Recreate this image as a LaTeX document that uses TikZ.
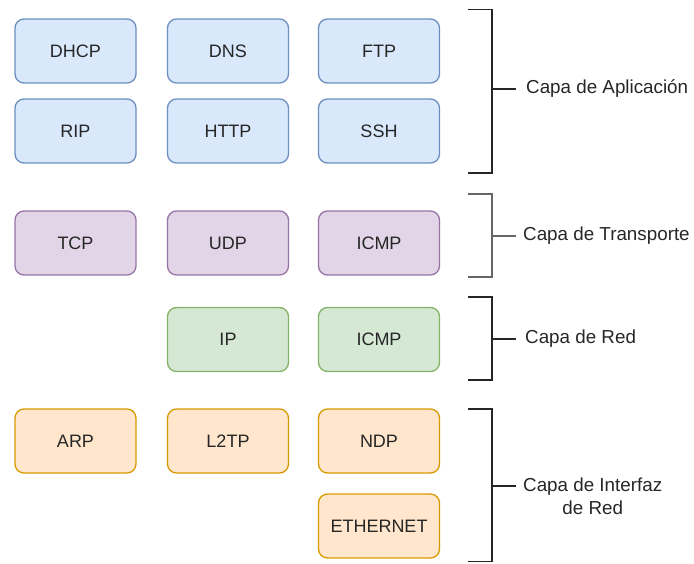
\documentclass[tikz,border=0pt]{standalone}
\usepackage{fontspec}
\setmainfont{Liberation Sans}
\begin{document}
\begin{tikzpicture}[x=1pt,y=-1pt,
  proto/.style={draw, line width=1.3pt, rounded corners=9pt, minimum width=121pt,
    minimum height=64pt, inner sep=0pt, font=\fontsize{18}{21}\selectfont, text=black!85},
  appl/.style={proto, fill={rgb,255:red,218;green,232;blue,252}, draw={rgb,255:red,108;green,142;blue,191}},
  trans/.style={proto, fill={rgb,255:red,225;green,213;blue,231}, draw={rgb,255:red,150;green,115;blue,166}},
  netw/.style={proto, fill={rgb,255:red,213;green,232;blue,212}, draw={rgb,255:red,130;green,179;blue,102}},
  link/.style={proto, fill={rgb,255:red,255;green,230;blue,204}, draw={rgb,255:red,215;green,155;blue,0}},
  brace/.style={line width=1.5pt, draw=black!85},
  layer/.style={anchor=west, inner sep=0pt, font=\fontsize{18.8}{23}\selectfont, text=black!85}
]
\useasboundingbox (0,0) rectangle (694,563);

% application layer
\node[appl] (dhcp) at (75.5,51) {DHCP};
\node[appl] (dns)  at (228,51) {DNS};
\node[appl] (ftp)  at (379,51) {FTP};
\node[appl] (rip)  at (75.5,131) {RIP};
\node[appl] (http) at (228,131) {HTTP};
\node[appl] (ssh)  at (379,131) {SSH};

% transport layer
\node[trans] (tcp)   at (75.5,243) {TCP};
\node[trans] (udp)   at (228,243) {UDP};
\node[trans] (icmpt) at (379,243) {ICMP};

% network layer
\node[netw] (ip)    at (228,339.5) {IP};
\node[netw] (icmpn) at (379,339.5) {ICMP};

% link layer
\node[link] (arp)  at (75.5,441) {ARP};
\node[link] (l2tp) at (228,441) {L2TP};
\node[link] (ndp)  at (379,441) {NDP};
\node[link] (eth)  at (379,526) {ETHERNET};

% brackets with their layer names
\coordinate (a1) at (468,9.5);  \coordinate (a2) at (468,173);
\draw[brace] (a1) -| (492,173) -- (a2);
\coordinate (am) at (492,89); \coordinate (at) at (516,89);
\draw[brace] (am) -- (at);
\node[layer] (lapp) at (526,89) {Capa de Aplicación};

\coordinate (t1) at (468,194);  \coordinate (t2) at (468,277);
\draw[brace, draw=black!60] (t1) -| (492,277) -- (t2);
\coordinate (tm) at (492,236); \coordinate (tt) at (516,236);
\draw[brace, draw=black!60] (tm) -- (tt);
\node[layer] (ltra) at (523,236) {Capa de Transporte};

\coordinate (r1) at (468,297);  \coordinate (r2) at (468,380);
\draw[brace] (r1) -| (492,380) -- (r2);
\coordinate (rm) at (492,339); \coordinate (rt) at (516,339);
\draw[brace] (rm) -- (rt);
\node[layer] (lred) at (525,339) {Capa de Red};

\coordinate (i1) at (468,409);  \coordinate (i2) at (468,561.5);
\draw[brace] (i1) -| (492,561.5) -- (i2);
\coordinate (im) at (492,486); \coordinate (it) at (516,486);
\draw[brace] (im) -- (it);
\node[layer, align=center] (lint) at (523,496.5) {Capa de Interfaz\\de Red};
\end{tikzpicture}
\end{document}
